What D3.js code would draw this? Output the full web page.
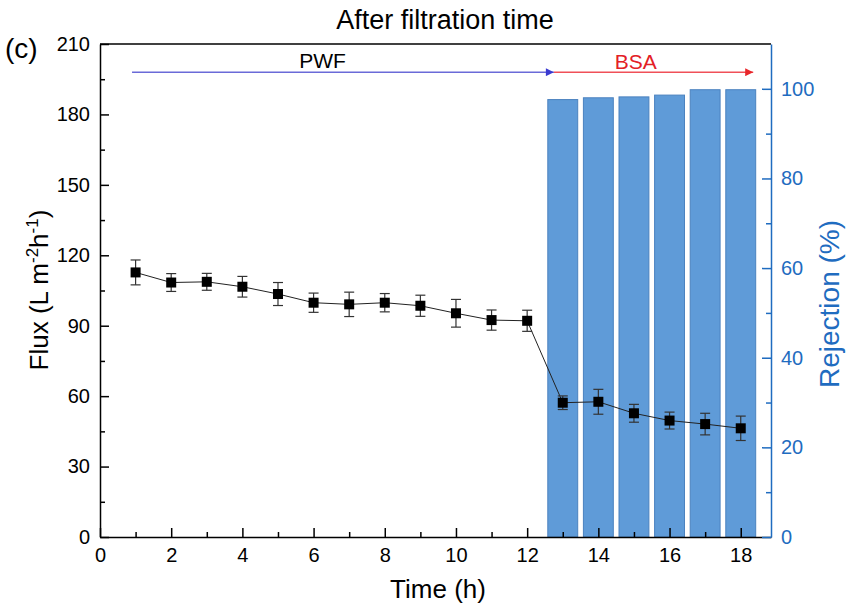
<!DOCTYPE html>
<meta charset="utf-8">
<style>
body { margin: 0; background: #fff; }
svg { font-family: "Liberation Sans", Arial, sans-serif; }
</style>
<body>
<svg width="847" height="610"></svg>
</body>
<script src="https://d3js.org/d3.v7.min.js"></script>
<script>

// flux points (left axis)
var fluxTime = [1, 2, 3, 4, 5, 6, 7, 8, 9, 10, 11, 12, 13, 14, 15, 16, 17, 18];
var fluxValue = [112.7, 108.4, 108.7, 106.6, 103.5, 99.8, 99.1, 99.8, 98.5, 95.3, 92.4, 92.1,
                 57.2, 57.6, 52.7, 49.6, 48.1, 46.3];
var fluxErr = [5.3, 3.8, 3.6, 4.4, 4.9, 4.1, 5.2, 3.9, 4.5, 5.9, 4.3, 4.5,
               2.9, 5.3, 3.8, 3.6, 4.6, 5.2];

// rejection bars (right axis)
var rejTime = [13, 14, 15, 16, 17, 18];
var rejValue = [97.6, 98.0, 98.2, 98.6, 99.8, 99.8];

var xTicks = [0, 2, 4, 6, 8, 10, 12, 14, 16, 18];
var yTicks = [0, 30, 60, 90, 120, 150, 180, 210];
var y2Ticks = [0, 20, 40, 60, 80, 100];

var svg = d3.select("svg");
var pLeft = 100, pRight = 771, pTop = 44, pBottom = 537;
var blue = "#1f6cc0";

var x = d3.scaleLinear().domain([0, 18.85]).range([pLeft, pRight]);
var y = d3.scaleLinear().domain([0, 210]).range([pBottom, pTop]);
var y2 = d3.scaleLinear().domain([0, 110]).range([pBottom, pTop]);

// bars
var bw = (x(1) - x(0)) * 0.84;
svg.append("g").selectAll("rect")
  .data(rejTime)
  .enter().append("rect")
    .attr("x", d => x(d) - bw / 2)
    .attr("y", (d, i) => y2(rejValue[i]))
    .attr("width", bw)
    .attr("height", (d, i) => pBottom - y2(rejValue[i]))
    .attr("fill", "#5f9bd8")
    .attr("stroke", "#4b82bf")
    .attr("stroke-width", 1);

// top border
svg.append("line").attr("x1", pLeft).attr("x2", pRight).attr("y1", pTop).attr("y2", pTop)
  .attr("stroke", "#000").attr("stroke-width", 1.5);

// axes, ticks pointing inward
var gx = svg.append("g").attr("transform", `translate(0,${pBottom})`)
  .call(d3.axisBottom(x).tickValues(xTicks).tickSizeInner(-9).tickSizeOuter(0).tickPadding(11));
var gxm = svg.append("g").attr("transform", `translate(0,${pBottom})`)
  .call(d3.axisBottom(x).tickValues(d3.range(1, 19, 2)).tickSize(-5).tickFormat(""))
  .call(g => g.select(".domain").remove());

var gy = svg.append("g").attr("transform", `translate(${pLeft},0)`)
  .call(d3.axisLeft(y).tickValues(yTicks).tickSizeInner(-9).tickSizeOuter(0).tickPadding(10));
var gym = svg.append("g").attr("transform", `translate(${pLeft},0)`)
  .call(d3.axisLeft(y).tickValues(d3.range(15, 210, 30)).tickSize(-5).tickFormat(""))
  .call(g => g.select(".domain").remove());

var gy2 = svg.append("g").attr("transform", `translate(${pRight},0)`)
  .call(d3.axisRight(y2).tickValues(y2Ticks).tickSizeInner(-9).tickSizeOuter(0).tickPadding(10));
var gy2m = svg.append("g").attr("transform", `translate(${pRight},0)`)
  .call(d3.axisRight(y2).tickValues(d3.range(10, 110, 20)).tickSize(-5).tickFormat(""))
  .call(g => g.select(".domain").remove());

[gx, gxm, gy, gym].forEach(g => {
  g.attr("font-family", null);
  g.selectAll(".domain, line").attr("stroke", "#000").attr("stroke-width", 1.5);
  g.selectAll("text").attr("font-size", 20).attr("fill", "#000");
});
[gy2, gy2m].forEach(g => {
  g.attr("font-family", null);
  g.selectAll(".domain, line").attr("stroke", blue).attr("stroke-width", 1.5);
  g.selectAll("text").attr("font-size", 20).attr("fill", blue);
});

// flux line + error bars + markers
var line = d3.line().x(d => x(d)).y((d, i) => y(fluxValue[i]));
svg.append("path").datum(fluxTime).attr("d", line)
  .attr("fill", "none").attr("stroke", "#222").attr("stroke-width", 1);

var eb = svg.append("g").attr("stroke", "#333").attr("stroke-width", 1.2);
fluxTime.forEach((t, i) => {
  var cx = x(t), y0 = y(fluxValue[i] - fluxErr[i]), y1 = y(fluxValue[i] + fluxErr[i]);
  eb.append("line").attr("x1", cx).attr("x2", cx).attr("y1", y0).attr("y2", y1);
  eb.append("line").attr("x1", cx - 5).attr("x2", cx + 5).attr("y1", y0).attr("y2", y0);
  eb.append("line").attr("x1", cx - 5).attr("x2", cx + 5).attr("y1", y1).attr("y2", y1);
});
svg.append("g").selectAll("rect")
  .data(fluxTime)
  .enter().append("rect")
    .attr("x", d => x(d) - 5)
    .attr("y", (d, i) => y(fluxValue[i]) - 5)
    .attr("width", 10)
    .attr("height", 10)
    .attr("fill", "#000");

// arrows
var defs = svg.append("defs");
[["ab", "#3a3ad0"], ["ar", "#e8262a"]].forEach(([id, c]) => {
  defs.append("marker").attr("id", id).attr("viewBox", "0 0 10 10")
    .attr("refX", 10).attr("refY", 5).attr("markerWidth", 13).attr("markerHeight", 8)
    .attr("markerUnits", "userSpaceOnUse").attr("orient", "auto")
    .append("path").attr("d", "M0,0L10,5L0,10Z").attr("fill", c);
});
var ay = y(198);
svg.append("line").attr("x1", x(0.9)).attr("x2", x(12.75)).attr("y1", ay).attr("y2", ay)
  .attr("stroke", "#6a6ad8").attr("stroke-width", 1.5).attr("marker-end", "url(#ab)");
svg.append("line").attr("x1", x(12.75)).attr("x2", x(18.35)).attr("y1", ay).attr("y2", ay)
  .attr("stroke", "#f05058").attr("stroke-width", 1.5).attr("marker-end", "url(#ar)");
svg.append("text").attr("x", x(6.25)).attr("y", ay - 4).attr("text-anchor", "middle")
  .attr("font-size", 21).text("PWF");
svg.append("text").attr("x", x(15.05)).attr("y", ay - 3).attr("text-anchor", "middle")
  .attr("font-size", 21).attr("fill", "#e32026").text("BSA");

// titles
svg.append("text").attr("x", 445).attr("y", 29).attr("text-anchor", "middle")
  .attr("font-size", 27).text("After filtration time");
svg.append("text").attr("x", 5).attr("y", 58).attr("font-size", 28).text("(c)");
svg.append("text").attr("x", 438).attr("y", 598).attr("text-anchor", "middle")
  .attr("font-size", 26).text("Time (h)");

var fl = svg.append("text").attr("transform", `translate(48,${290}) rotate(-90)`)
  .attr("text-anchor", "middle").attr("font-size", 26);
fl.append("tspan").text("Flux (L m");
fl.append("tspan").attr("dy", -10).attr("font-size", 17).text("-2");
fl.append("tspan").attr("dy", 10).text("h");
fl.append("tspan").attr("dy", -10).attr("font-size", 17).text("-1");
fl.append("tspan").attr("dy", 10).text(")");

svg.append("text").attr("transform", `translate(839,${304}) rotate(-90)`)
  .attr("text-anchor", "middle").attr("font-size", 28).attr("fill", blue).text("Rejection (%)");

</script>
